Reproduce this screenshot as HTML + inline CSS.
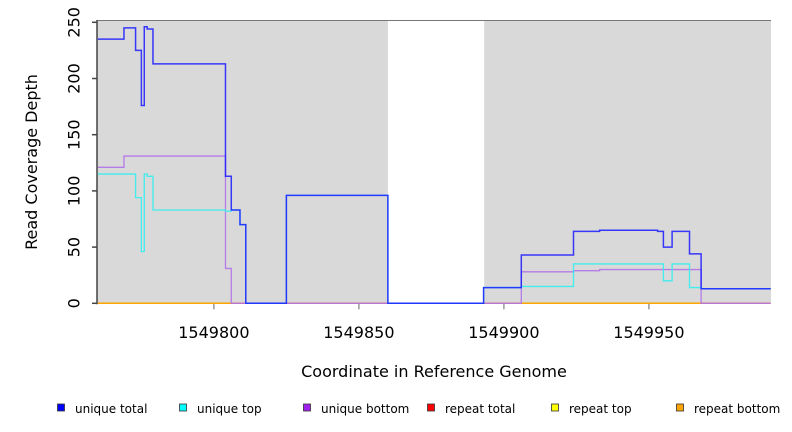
<!DOCTYPE html>
<html><head><meta charset="utf-8">
<style>
html,body{margin:0;padding:0;background:#fff;}
svg{display:block;font-family:"DejaVu Sans","Liberation Sans",sans-serif;}
</style></head>
<body>
<svg id="chart" width="792" height="432" viewBox="0 0 792 432"></svg>
<script>
// ---- data ----
const breaks = [1549760,1549769,1549773,1549775,1549776,1549777,1549779,1549804,1549806,1549809,1549811,1549825,1549860,1549893,1549906,1549924,1549933,1549953,1549955,1549958,1549964,1549968,1549992];
const uniqueTotal  = [235,245,225,176,246,244,213,113,83,70,0,96,0,14,43,64,65,64,50,64,44,13];
const uniqueTop    = [115,115,94,46,115,113,83,82,83,70,0,96,0,14,15,35,35,35,20,35,14,13];
const uniqueBottom = [121,131,131,131,131,131,131,31,0,0,0,0,0,0,28,29,30,30,30,30,30,0];
const repeatTotal  = [0,0,0,0,0,0,0,0,0,0,0,0,0,0,0,0,0,0,0,0,0,0];
const regions = [[1549759.7,1549860],[1549893.2,1549992.1]];
const xTicks = [1549800,1549850,1549900,1549950];
const yTicks = [0,50,100,150,200,250];
const legendLabels = ["unique total","unique top","unique bottom","repeat total","repeat top","repeat bottom"];
const legendColors = ["#0000ff","#00ffff","#a020f0","#ff0000","#ffff00","#ffa500"];

// ---- axes ----
const X0=97,X1=771,Y0=303.3,Y1=22.3;
const xMin=1549759.7,xMax=1549992.1,yMin=0,yMax=250;
const xs=v=>X0+(v-xMin)/(xMax-xMin)*(X1-X0);
const ys=v=>Y0-(v-yMin)/(yMax-yMin)*(Y0-Y1);
const svg=document.getElementById('chart');
const NS='http://www.w3.org/2000/svg';
function mk(tag,attrs,parent){const e=document.createElementNS(NS,tag);for(const k in attrs)e.setAttribute(k,attrs[k]);(parent||svg).appendChild(e);return e;}

regions.forEach(r=>{
  const e=mk('rect',{x:xs(r[0]),y:20,width:xs(r[1])-xs(r[0]),height:Y0-20,fill:'#d9d9d9'});
  
  
});
let t=mk('line',{x1:X0,x2:X1,y1:20.5,y2:20.5,stroke:'#777','stroke-width':1});


let ya=mk('line',{x1:X0,x2:X0,y1:20,y2:Y0+1,stroke:'#444','stroke-width':1.5});



yTicks.forEach(v=>{
  const tk=mk('line',{x1:X0-5,x2:X0,y1:ys(v),y2:ys(v),stroke:'#444','stroke-width':1.5});
  
  
  const lb=mk('text',{x:0,y:0,'font-size':16,'text-anchor':'middle',fill:'#000',transform:`translate(${X0-22},${ys(v)}) rotate(-90)`,'dominant-baseline':'middle'});
  lb.textContent=v;
  
  
});
xTicks.forEach(v=>{
  const tk=mk('line',{x1:xs(v),x2:xs(v),y1:Y0,y2:Y0+6,stroke:'#999','stroke-width':1.5});
  
  
  const lb=mk('text',{x:xs(v),y:338,'font-size':16,'text-anchor':'middle',fill:'#000'});
  lb.textContent=v;
  
  
});
let yt=mk('text',{x:0,y:0,'font-size':16,'text-anchor':'middle',transform:'translate(37,162) rotate(-90)'});
yt.textContent='Read Coverage Depth';


let xt=mk('text',{x:434,y:377,'font-size':16,'text-anchor':'middle'});
xt.textContent='Coordinate in Reference Genome';



function stepPath(vals){
  let d=`M${xs(breaks[0])},${ys(vals[0])}`;
  for(let i=0;i<vals.length;i++){
    d+=` L${xs(breaks[i])},${ys(vals[i])} L${xs(breaks[i+1])},${ys(vals[i])}`;
  }
  return d;
}
function series(vals,color,name,w,op){
  const p=mk('path',{d:stepPath(vals),fill:'none',stroke:color,'stroke-width':w,'stroke-opacity':op});
  
  
}
series(repeatTotal,'#ffa500','series-repeat-bottom',1.5,1);
series(uniqueBottom,'#b070e8','series-unique-bottom',1.3,0.9);
series(uniqueTop,'#30eeee','series-unique-top',1.3,0.9);
series(uniqueTotal,'#1a1aff','series-unique-total',1.5,0.85);

const lx=[61,183,307,431,555,680];
legendLabels.forEach((l,i)=>{
  const g=mk('g',{});
  
  
  mk('rect',{x:lx[i]-3.5,y:404,width:7,height:7,fill:legendColors[i],stroke:'#333','stroke-width':0.8},g);
  const tx=mk('text',{x:lx[i]+14,y:413,'font-size':12,fill:'#000'},g);
  tx.textContent=l;
});
</script>
</body></html>
